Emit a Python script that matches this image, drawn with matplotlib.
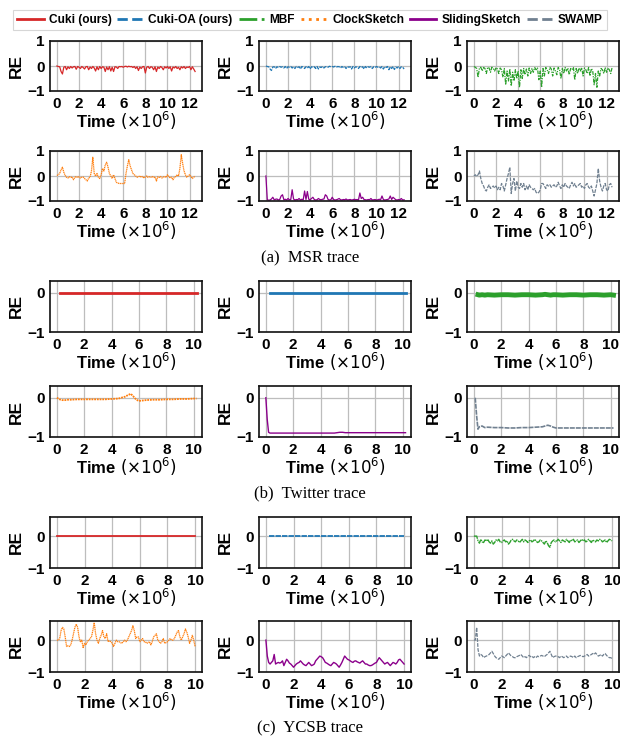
import numpy as np
import matplotlib
matplotlib.use("Agg")
import matplotlib.pyplot as plt
from matplotlib.lines import Line2D

nan = np.nan

# ---------------- legend / series meta ----------------
algorithms = ["Cuki (ours)", "Cuki-OA (ours)", "MBF", "ClockSketch", "SlidingSketch", "SWAMP"]
colors = ["#d62728", "#1f77b4", "#2ca02c", "#ff7f0e", "#8b008b", "#708090"]
linestyles = ["-", "--", "-.", ":", "-", "--"]
trace_captions = ["(a)  MSR trace", "(b)  Twitter trace", "(c)  YCSB trace"]
xticks_msr = [0, 2, 4, 6, 8, 10, 12]
xticks_other = [0, 2, 4, 6, 8, 10]

# ---------------- MSR trace (time x 1e6) ----------------
msr_time = np.linspace(0, 12.5, 101)
msr_cuki = [0, -0.02, -0.03, -0.22, -0.32, -0.05, -0.02, -0.15, -0.03, -0.10,
            -0.02, -0.08, -0.03, -0.02, -0.13, -0.02, -0.05, -0.10, -0.02, -0.06,
            -0.12, -0.03, -0.02, -0.15, -0.04, -0.10, -0.02, -0.08, -0.20, -0.03,
            -0.15, -0.02, -0.10, -0.03, -0.05, -0.22, -0.04, -0.15, -0.03, -0.20,
            -0.05, -0.22, -0.03, -0.04, -0.10, -0.02, -0.03, -0.02, -0.05, -0.02,
            -0.01, -0.04, -0.01, -0.03, -0.02, -0.06, -0.02, -0.10, -0.03, -0.18,
            -0.04, -0.10, -0.03, -0.02, -0.28, -0.05, -0.02, -0.10, -0.03, -0.05,
            -0.15, -0.03, -0.22, -0.04, -0.10, -0.02, -0.06, -0.15, -0.03, -0.08,
            -0.02, -0.10, -0.03, -0.20, -0.04, -0.08, -0.02, -0.10, -0.05, -0.15,
            -0.03, -0.08, -0.02, -0.10, -0.04, -0.06, -0.02, -0.15, -0.03, -0.12, -0.22]
msr_cuki_oa = [0, -0.02, -0.03, -0.12, -0.18, -0.04, -0.03, -0.10, -0.03, -0.06,
               -0.02, -0.05, -0.03, -0.08, -0.02, -0.10, -0.03, -0.05, -0.02, -0.08,
               -0.03, -0.10, -0.02, -0.06, -0.03, -0.12, -0.02, -0.05, -0.10, -0.03,
               -0.08, -0.02, -0.12, -0.03, -0.06, -0.03, -0.10, -0.02, -0.12, -0.04,
               -0.06, -0.02, -0.08, -0.03, -0.02, -0.05, -0.01, -0.03, -0.02, -0.04,
               -0.01, -0.05, -0.02, -0.03, -0.08, -0.02, -0.06, -0.03, -0.10, -0.02,
               -0.05, -0.03, -0.12, -0.02, -0.08, -0.03, -0.05, -0.10, -0.02, -0.06,
               -0.03, -0.12, -0.02, -0.08, -0.03, -0.05, -0.02, -0.10, -0.03, -0.06,
               -0.02, -0.05, -0.03, -0.08, -0.02, -0.12, -0.03, -0.06, -0.02, -0.15,
               -0.03, -0.10, -0.02, -0.14, -0.04, -0.08, -0.02, -0.10, -0.03, -0.05, -0.12]
msr_mbf = [-0.02, -0.05, -0.10, -0.45, -0.08, -0.05, -0.20, -0.06, -0.10, -0.30,
           -0.05, -0.08, -0.25, -0.05, -0.10, -0.20, -0.06, -0.12, -0.30, -0.08,
           -0.15, -0.45, -0.10, -0.75, -0.20, -0.60, -0.12, -0.80, -0.25, -0.60,
           -0.15, -0.50, -0.20, -0.85, -0.15, -0.50, -0.10, -0.35, -0.12, -0.40,
           -0.08, -0.30, -0.10, -0.25, -0.06, -0.15, -0.08, -0.55, -0.20, -0.85,
           -0.10, -0.40, -0.06, -0.15, -0.30, -0.05, -0.12, -0.40, -0.08, -0.20,
           -0.35, -0.06, -0.15, -0.50, -0.10, -0.30, -0.06, -0.20, -0.08, -0.35,
           -0.10, -0.15, -0.06, -0.55, -0.10, -0.30, -0.08, -0.20, -0.06, -0.40,
           -0.08, -0.15, -0.30, -0.06, -0.40, -0.10, -0.20, -0.75, -0.30, -0.85,
           -0.20, -0.40, -0.10, -0.15, -0.30, -0.06, -0.25, -0.08, -0.15, -0.30, -0.06]
msr_clock = [0.02, 0.05, 0.10, 0.25, 0.35, 0.15, 0.02, -0.05, -0.08, -0.03,
             -0.06, -0.04, -0.15, -0.05, -0.02, -0.06, -0.03, -0.08, -0.05, -0.04,
             -0.10, -0.15, -0.20, -0.08, -0.05, 0.20, 0.75, 0.10, 0.00, 0.10,
             -0.05, -0.10, 0.05, 0.30, 0.20, 0.45, 0.55, 0.35, 0.10, 0.00,
             -0.10, 0.05, -0.10, -0.25, -0.28, -0.30, -0.30, -0.30, -0.30, -0.30,
             0.10, 0.40, 0.65, 0.40, 0.25, 0.10, 0.05, 0.00, -0.05, -0.03,
             0.00, -0.05, -0.02, -0.08, -0.04, 0.00, -0.06, -0.03, -0.05, -0.02,
             -0.06, -0.04, -0.20, -0.03, -0.06, -0.02, -0.08, -0.04, -0.02, -0.06,
             0.05, -0.03, -0.08, -0.05, -0.15, -0.05, -0.02, 0.05, 0.00, 0.30,
             0.85, 0.50, 0.20, 0.05, -0.05, 0.00, 0.05, -0.02, -0.10, -0.05, 0.00]
msr_sliding = [0.0, -0.95, -0.97, -0.96, -0.92, -0.85, -0.95, -0.93, -0.92, -0.96,
               -0.94, -0.80, -0.75, -0.95, -0.93, -0.96, -0.90, -0.95, -0.94, -0.55,
               -0.92, -0.96, -0.94, -0.95, -0.90, -0.96, -0.93, -0.95, -0.60, -0.94,
               -0.62, -0.93, -0.95, -0.90, -0.85, -0.94, -0.96, -0.95, -0.90, -0.94,
               -0.95, -0.93, -0.92, -0.75, -0.80, -0.94, -0.96, -0.95, -0.85, -0.94,
               -0.96, -0.95, -0.93, -0.90, -0.95, -0.96, -0.94, -0.95, -0.92, -0.96,
               -0.95, -0.94, -0.96, -0.95, -0.93, -0.95, -0.94, -0.96, -0.68, -0.90,
               -0.85, -0.94, -0.95, -0.96, -0.94, -0.95, -0.90, -0.96, -0.95, -0.94,
               -0.96, -0.95, -0.93, -0.95, -0.80, -0.94, -0.96, -0.95, -0.94, -0.92,
               -0.80, -0.94, -0.85, -0.90, -0.95, -0.96, -0.94, -0.95, -0.90, -0.96, -0.95]
msr_swamp = [0.00, 0.05, -0.02, 0.05, 0.20, -0.10, -0.30, -0.40, -0.55, -0.60,
             -0.45, -0.35, -0.50, -0.45, -0.40, -0.48, -0.40, -0.55, -0.45, -0.55,
             -0.30, -0.40, -0.60, -0.35, -0.10, 0.10, 0.35, -0.70, -0.30, -0.10,
             -0.60, -0.20, -0.45, -0.50, -0.30, -0.45, -0.30, -0.55, -0.40, -0.55,
             -0.35, -0.45, -0.50, -0.55, -0.50, -0.65, -0.70, -0.65, -0.55, -0.30,
             -0.30, -0.40, -0.50, -0.35, -0.40, -0.35, -0.45, -0.40, -0.35, -0.45,
             -0.40, -0.25, -0.40, -0.50, -0.35, -0.45, -0.30, -0.40, -0.45, -0.50,
             -0.35, -0.25, -0.40, -0.30, -0.45, -0.40, -0.35, -0.30, -0.45, -0.40,
             -0.50, -0.35, -0.30, -0.45, -0.50, -0.40, -0.60, -0.80, -0.55, -0.30,
             0.30, -0.20, -0.45, -0.60, -0.40, -0.30, -0.55, -0.60, -0.35, -0.30, -0.45]

# ---------------- Twitter trace ----------------
twitter_time = [0.0, 0.1, 0.2, 0.3, 0.4, 0.6, 0.8, 1.0, 1.5, 2.0, 2.5, 3.0, 3.5, 4.0, 4.5,
                5.0, 5.2, 5.4, 5.6, 5.8, 6.0, 6.5, 7.0, 7.5, 8.0, 8.5, 9.0, 9.5, 10.0, 10.2]
twitter_cuki = [nan, nan, 0.0, 0.0, 0.0, 0.0, 0.0, 0.0, 0.0, 0.0, 0.0, 0.0, 0.0, 0.0, 0.0,
                0.0, 0.0, 0.0, 0.0, 0.0, 0.0, 0.0, 0.0, 0.0, 0.0, 0.0, 0.0, 0.0, 0.0, 0.0]
twitter_cuki_oa = [nan, nan, nan, -0.01, -0.01, -0.01, -0.01, -0.01, -0.01, -0.01, -0.01, -0.01,
                   -0.01, -0.01, -0.01, -0.01, -0.01, -0.01, -0.01, -0.01, -0.01, -0.01, -0.01,
                   -0.01, -0.01, -0.01, -0.01, -0.01, -0.01, -0.01]
twitter_mbf = [nan, nan, nan, -0.05, -0.06, -0.05, -0.06, -0.05, -0.06, -0.05, -0.05, -0.06,
               -0.05, -0.05, -0.06, -0.05, -0.04, -0.05, -0.06, -0.05, -0.05, -0.06, -0.05,
               -0.05, -0.06, -0.05, -0.05, -0.06, -0.05, -0.06]
twitter_clock = [0.0, -0.02, -0.04, -0.05, -0.06, -0.06, -0.05, -0.05, -0.04, -0.04, -0.04,
                 -0.04, -0.04, -0.03, -0.02, 0.03, 0.07, 0.10, 0.03, -0.05, -0.08, -0.06,
                 -0.05, -0.05, -0.04, -0.04, -0.03, -0.03, -0.02, -0.02]
twitter_sliding = [0.0, -0.55, -0.88, -0.90, -0.90, -0.90, -0.90, -0.90, -0.90, -0.90, -0.90,
                   -0.90, -0.90, -0.90, -0.90, -0.90, -0.89, -0.88, -0.88, -0.89, -0.89, -0.89,
                   -0.89, -0.89, -0.89, -0.89, -0.89, -0.89, -0.89, -0.89]
twitter_swamp = [nan, 0.0, -0.45, -0.80, -0.74, -0.72, -0.76, -0.75, -0.76, -0.76, -0.77,
                 -0.77, -0.76, -0.76, -0.75, -0.74, -0.72, -0.70, -0.72, -0.75, -0.77, -0.77,
                 -0.77, -0.77, -0.77, -0.77, -0.77, -0.77, -0.77, -0.77]

# ---------------- YCSB trace ----------------
ycsb_time_coarse = [0.0, 0.2, 1.0, 2.0, 3.0, 4.0, 5.0, 6.0, 7.0, 8.0, 9.0, 10.0]
ycsb_cuki = [0.0, 0.0, 0.0, 0.0, 0.0, 0.0, 0.0, 0.0, 0.0, 0.0, 0.0, 0.0]
ycsb_cuki_oa = [nan, -0.005, -0.005, -0.005, -0.005, -0.005, -0.005, -0.005, -0.005, -0.005,
                -0.005, -0.005]
ycsb_time = np.linspace(0, 10, 101)
ycsb_mbf = [0.00, 0.00, 0.00, -0.15, -0.22, -0.10, -0.18, -0.20, -0.12, -0.15,
            -0.10, -0.18, -0.22, -0.15, -0.25, -0.20, -0.12, -0.15, -0.10, -0.18,
            -0.20, -0.15, -0.12, -0.18, -0.15, -0.25, -0.20, -0.12, -0.10, -0.15,
            -0.18, -0.12, -0.15, -0.20, -0.15, -0.10, -0.18, -0.12, -0.15, -0.20,
            -0.15, -0.12, -0.18, -0.15, -0.10, -0.15, -0.20, -0.18, -0.12, -0.15,
            -0.20, -0.25, -0.15, -0.20, -0.30, -0.35, -0.20, -0.15, -0.12, -0.18,
            -0.15, -0.10, -0.15, -0.20, -0.12, -0.15, -0.18, -0.10, -0.15, -0.20,
            -0.12, -0.15, -0.10, -0.18, -0.15, -0.12, -0.20, -0.15, -0.10, -0.15,
            -0.12, -0.18, -0.15, -0.10, -0.15, -0.20, -0.12, -0.15, -0.18, -0.12,
            -0.15, -0.10, -0.12, -0.18, -0.15, -0.12, -0.20, -0.15, -0.10, -0.12, -0.15]
ycsb_clock = [0.00, 0.00, 0.05, 0.30, 0.40, 0.35, 0.10, -0.20, -0.18, -0.20,
              -0.15, 0.00, 0.20, 0.40, 0.50, 0.40, 0.10, -0.05, 0.00, -0.25,
              -0.10, -0.15, -0.05, 0.00, 0.05, 0.10, 0.30, 0.55, 0.20, 0.00,
              -0.10, 0.05, 0.15, 0.30, 0.10, 0.05, 0.20, -0.05, -0.02, -0.05,
              -0.10, -0.20, -0.10, 0.00, -0.05, -0.05, -0.08, -0.10, -0.05, 0.00,
              -0.05, 0.00, 0.10, 0.20, 0.30, 0.45, 0.30, 0.05, 0.10, 0.10,
              -0.05, 0.00, 0.05, -0.05, -0.05, -0.10, -0.08, -0.05, -0.15, -0.05,
              0.10, 0.15, 0.20, 0.00, -0.05, -0.10, -0.05, 0.05, -0.10, -0.08,
              -0.05, 0.00, 0.05, 0.00, 0.00, 0.05, 0.15, 0.25, 0.30, 0.10,
              0.00, 0.10, 0.20, 0.35, 0.25, 0.10, -0.10, 0.00, 0.15, 0.00, -0.20]
ycsb_sliding = [0.00, -0.50, -0.70, -0.75, -0.70, -0.65, -0.45, -0.75, -0.72, -0.70,
                -0.72, -0.70, -0.65, -0.80, -0.70, -0.60, -0.65, -0.72, -0.75, -0.80,
                -0.85, -0.80, -0.75, -0.72, -0.70, -0.65, -0.70, -0.75, -0.78, -0.80,
                -0.75, -0.70, -0.75, -0.80, -0.78, -0.75, -0.65, -0.60, -0.55, -0.50,
                -0.52, -0.55, -0.62, -0.70, -0.72, -0.75, -0.78, -0.80, -0.75, -0.70,
                -0.72, -0.75, -0.80, -0.85, -0.78, -0.70, -0.60, -0.50, -0.55, -0.60,
                -0.62, -0.65, -0.68, -0.70, -0.66, -0.65, -0.68, -0.70, -0.72, -0.68,
                -0.65, -0.70, -0.75, -0.75, -0.78, -0.80, -0.80, -0.78, -0.75, -0.72,
                -0.70, -0.62, -0.55, -0.60, -0.65, -0.70, -0.75, -0.72, -0.70, -0.75,
                -0.80, -0.75, -0.70, -0.72, -0.75, -0.70, -0.62, -0.60, -0.65, -0.70, -0.75]
ycsb_swamp = [0.00, 0.00, 0.40, -0.30, -0.50, -0.45, -0.48, -0.55, -0.52, -0.50,
              -0.48, -0.45, -0.40, -0.35, -0.42, -0.50, -0.55, -0.58, -0.60, -0.55,
              -0.50, -0.52, -0.55, -0.50, -0.45, -0.40, -0.45, -0.50, -0.52, -0.55,
              -0.55, -0.52, -0.50, -0.48, -0.45, -0.50, -0.55, -0.52, -0.55, -0.50,
              -0.48, -0.52, -0.50, -0.55, -0.52, -0.55, -0.50, -0.52, -0.50, -0.48,
              -0.50, -0.52, -0.48, -0.45, -0.40, -0.35, -0.45, -0.55, -0.52, -0.50,
              -0.50, -0.52, -0.55, -0.50, -0.52, -0.55, -0.52, -0.50, -0.55, -0.52,
              -0.50, -0.52, -0.55, -0.50, -0.55, -0.52, -0.50, -0.48, -0.50, -0.52,
              -0.50, -0.48, -0.45, -0.50, -0.48, -0.45, -0.42, -0.45, -0.40, -0.45,
              -0.50, -0.48, -0.45, -0.50, -0.45, -0.42, -0.48, -0.52, -0.55, -0.55, -0.58]

# ---------------- assemble (per trace: list of (time, values) in algorithm order) -------
dense = (0, (3, 0.6))
dense_dd = (0, (4, 0.6, 1, 0.6))
dense_dot = (0, (1, 0.5))
traces = [
    dict(series=[(msr_time, msr_cuki), (msr_time, msr_cuki_oa), (msr_time, msr_mbf),
                 (msr_time, msr_clock), (msr_time, msr_sliding), (msr_time, msr_swamp)],
         ylim=(-1, 1), yticks=[-1, 0, 1], xlim=(-0.625, 13.125), xticks=xticks_msr,
         lw=[0.9, 0.9, 0.9, 0.9, 0.9, 0.9],
         ls=["-", (0, (3, 1)), (0, (3, 1, 1, 1)), dense_dot, "-", (0, (3, 1))]),
    dict(series=[(twitter_time, twitter_cuki), (twitter_time, twitter_cuki_oa),
                 (twitter_time, twitter_mbf), (twitter_time, twitter_clock),
                 (twitter_time, twitter_sliding), (twitter_time, twitter_swamp)],
         ylim=(-1, 0.3), yticks=[-1, 0], xlim=(-0.5, 10.6), xticks=xticks_other,
         lw=[2.0, 2.0, 3.5, 1.3, 1.0, 1.2],
         ls=["-", "-", "-", dense_dot, "-", dense]),
    dict(series=[(ycsb_time_coarse, ycsb_cuki), (ycsb_time_coarse, ycsb_cuki_oa),
                 (ycsb_time, ycsb_mbf), (ycsb_time, ycsb_clock),
                 (ycsb_time, ycsb_sliding), (ycsb_time, ycsb_swamp)],
         ylim=(-1, 0.6), yticks=[-1, 0], xlim=(-0.5, 10.5), xticks=xticks_other,
         lw=[1.3, 1.3, 1.0, 0.9, 1.0, 0.9],
         ls=["-", dense, dense_dd, dense_dot, "-", (0, (3, 1))]),
]

# ---------------- layout (pixels) ----------------
W, H = 620, 741
plt.rcParams["font.family"] = ["Liberation Sans", "DejaVu Sans"]
plt.rcParams["mathtext.fontset"] = "custom"
plt.rcParams["mathtext.rm"] = "DejaVu Sans"
plt.rcParams["mathtext.it"] = "DejaVu Sans:italic"
plt.rcParams["mathtext.bf"] = "Liberation Sans:bold"

fig = plt.figure(figsize=(W / 100, H / 100), dpi=100)

col_left = [50, 259, 467]
ax_w = 152
row_tops = [[41, 151], [281, 386], [517, 621]]
ax_h = [50, 51, 51]
caption_y = [258, 493, 728]
xlabel_text = r"$\mathbf{Time}\ (\times10^{6})$"

for ti, tr in enumerate(traces):
    for r in range(2):
        for c in range(3):
            k = r * 3 + c
            top = row_tops[ti][r]
            h = ax_h[ti]
            ax = fig.add_axes([col_left[c] / W, 1 - (top + h) / H, ax_w / W, h / H])
            t, v = tr["series"][k]
            ax.plot(t, v, color=colors[k], linestyle=tr["ls"][k], lw=tr["lw"][k])
            ax.set_xlim(*tr["xlim"])
            ax.set_ylim(*tr["ylim"])
            ax.set_xticks(tr["xticks"])
            ax.set_yticks(tr["yticks"])
            ax.grid(True, color="#bdbdbd", lw=0.9)
            ax.set_axisbelow(True)
            ax.tick_params(length=0, pad=4, labelsize=11)
            for lab in ax.get_xticklabels() + ax.get_yticklabels():
                lab.set_fontweight("bold")
            for sp in ax.spines.values():
                sp.set_linewidth(1.2)
                sp.set_color("#111111")
            ax.set_ylabel("RE", fontsize=12.5, fontweight="bold")
            ax.yaxis.set_label_coords(-0.17, 0.5)
            ax.set_xlabel(xlabel_text, fontsize=12)
            ax.xaxis.set_label_coords(0.5, -0.38)
    fig.text(310 / W, 1 - caption_y[ti] / H, trace_captions[ti], ha="center", va="center",
             fontsize=12, family="Liberation Serif")

handles = [Line2D([0], [0], color=colors[i], linestyle=linestyles[i], lw=2)
           for i in range(len(algorithms))]
leg = fig.legend(handles, algorithms, loc="upper center", bbox_to_anchor=(0.5, 1 - 4 / H),
                 ncol=6, fontsize=8.6, frameon=True, fancybox=False, handlelength=2.2,
                 handletextpad=0.4, columnspacing=0.5, borderpad=0.35)
leg.get_frame().set_edgecolor("#cccccc")
leg.get_frame().set_linewidth(0.8)
for txt in leg.get_texts():
    txt.set_fontweight("bold")

fig.savefig("out.png", dpi=100)
